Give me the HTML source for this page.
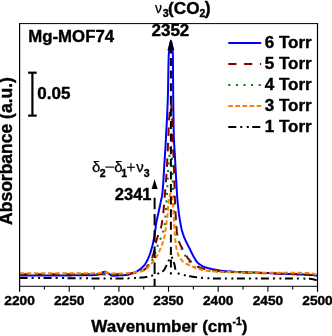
<!DOCTYPE html>
<html><head><meta charset="utf-8">
<style>
html,body{margin:0;padding:0;background:#fff;}
svg{display:block;will-change:transform;}
text{font-family:"Liberation Sans",sans-serif;font-weight:bold;fill:#000;stroke:#000;stroke-width:0.4px;stroke-linejoin:round;}
.r{font-weight:normal;stroke-width:0.25px;}
.s{font-family:"Liberation Serif",serif;font-weight:normal;}
</style></head><body>
<svg width="332" height="336" viewBox="0 0 332 336">
<rect width="332" height="336" fill="#fff"/>
<!-- curves -->
<g fill="none" stroke-linejoin="round">
<path d="M19.6,275.6 L20.0,275.6 L20.4,275.6 L20.8,275.6 L21.2,275.6 L21.6,275.6 L22.0,275.6 L22.4,275.6 L22.8,275.6 L23.2,275.6 L23.6,275.6 L24.0,275.6 L24.4,275.6 L24.8,275.6 L25.2,275.6 L25.6,275.6 L26.0,275.6 L26.4,275.6 L26.8,275.6 L27.2,275.6 L27.6,275.6 L28.0,275.6 L28.4,275.6 L28.8,275.6 L29.2,275.6 L29.6,275.6 L30.0,275.6 L30.4,275.6 L30.8,275.6 L31.2,275.5 L31.6,275.5 L32.0,275.5 L32.4,275.5 L32.8,275.5 L33.2,275.5 L33.6,275.5 L34.0,275.5 L34.4,275.5 L34.8,275.5 L35.2,275.5 L35.6,275.5 L36.0,275.5 L36.4,275.5 L36.8,275.5 L37.2,275.5 L37.6,275.5 L38.0,275.5 L38.4,275.5 L38.8,275.5 L39.2,275.5 L39.6,275.5 L40.0,275.5 L40.4,275.5 L40.8,275.5 L41.2,275.5 L41.6,275.5 L42.0,275.5 L42.4,275.5 L42.8,275.5 L43.2,275.5 L43.6,275.5 L44.0,275.5 L44.4,275.5 L44.8,275.5 L45.2,275.5 L45.6,275.5 L46.0,275.5 L46.4,275.5 L46.8,275.5 L47.2,275.5 L47.6,275.5 L48.0,275.5 L48.4,275.5 L48.8,275.5 L49.2,275.5 L49.6,275.5 L50.0,275.5 L50.4,275.5 L50.8,275.5 L51.2,275.4 L51.6,275.4 L52.0,275.4 L52.4,275.4 L52.8,275.4 L53.2,275.4 L53.6,275.4 L54.0,275.4 L54.4,275.4 L54.8,275.4 L55.2,275.4 L55.6,275.4 L56.0,275.4 L56.4,275.4 L56.8,275.4 L57.2,275.4 L57.6,275.4 L58.0,275.4 L58.4,275.4 L58.8,275.4 L59.2,275.4 L59.6,275.4 L60.0,275.4 L60.0,275.4 L60.4,275.4 L60.8,275.4 L61.2,275.4 L61.6,275.4 L62.0,275.4 L62.4,275.4 L62.8,275.4 L63.2,275.4 L63.6,275.4 L64.0,275.4 L64.4,275.4 L64.8,275.4 L65.2,275.4 L65.6,275.4 L66.0,275.4 L66.4,275.4 L66.8,275.4 L67.2,275.4 L67.6,275.4 L68.0,275.4 L68.4,275.4 L68.8,275.4 L69.2,275.4 L69.6,275.4 L70.0,275.4 L70.4,275.4 L70.8,275.4 L71.2,275.4 L71.6,275.4 L72.0,275.3 L72.4,275.3 L72.8,275.3 L73.2,275.3 L73.6,275.3 L74.0,275.3 L74.4,275.3 L74.8,275.3 L75.2,275.3 L75.6,275.3 L76.0,275.3 L76.4,275.3 L76.8,275.3 L77.2,275.3 L77.6,275.3 L78.0,275.3 L78.4,275.3 L78.8,275.3 L79.2,275.3 L79.6,275.3 L80.0,275.3 L80.4,275.3 L80.8,275.3 L81.2,275.3 L81.6,275.3 L82.0,275.3 L82.4,275.3 L82.8,275.3 L83.2,275.3 L83.6,275.3 L84.0,275.3 L84.4,275.3 L84.8,275.3 L85.2,275.3 L85.6,275.3 L86.0,275.3 L86.4,275.3 L86.8,275.3 L87.2,275.2 L87.6,275.2 L88.0,275.2 L88.4,275.2 L88.8,275.2 L89.2,275.2 L89.6,275.2 L90.0,275.2 L90.4,275.2 L90.8,275.2 L91.0,275.2 L91.2,275.2 L91.6,275.2 L92.0,275.2 L92.4,275.2 L92.8,275.1 L93.2,275.1 L93.6,275.1 L94.0,275.1 L94.4,275.0 L94.8,275.0 L95.2,275.0 L95.6,274.9 L96.0,274.9 L96.4,274.8 L96.8,274.8 L97.2,274.7 L97.6,274.7 L98.0,274.6 L98.0,274.6 L98.4,274.5 L98.8,274.4 L99.2,274.2 L99.6,274.0 L100.0,273.8 L100.4,273.5 L100.8,273.3 L101.2,273.1 L101.5,273.0 L101.6,273.0 L102.0,272.8 L102.4,272.6 L102.8,272.4 L103.2,272.2 L103.6,272.0 L104.0,271.9 L104.4,271.8 L104.8,271.8 L104.8,271.8 L105.2,271.8 L105.6,271.9 L106.0,272.1 L106.4,272.3 L106.8,272.5 L107.2,272.8 L107.6,273.0 L108.0,273.2 L108.0,273.2 L108.4,273.4 L108.8,273.7 L109.2,274.0 L109.6,274.3 L110.0,274.6 L110.4,274.9 L110.8,275.2 L111.2,275.4 L111.6,275.6 L112.0,275.7 L112.4,275.8 L112.5,275.8 L112.8,275.8 L113.2,275.8 L113.6,275.8 L114.0,275.8 L114.4,275.7 L114.8,275.7 L115.2,275.7 L115.6,275.7 L116.0,275.6 L116.4,275.6 L116.8,275.6 L117.2,275.5 L117.6,275.5 L118.0,275.4 L118.4,275.4 L118.8,275.4 L119.2,275.3 L119.6,275.3 L120.0,275.3 L120.0,275.3 L120.4,275.3 L120.8,275.3 L121.2,275.2 L121.6,275.2 L122.0,275.2 L122.4,275.2 L122.8,275.2 L123.2,275.2 L123.6,275.2 L124.0,275.2 L124.4,275.1 L124.8,275.1 L125.2,275.1 L125.6,275.1 L126.0,275.1 L126.4,275.0 L126.8,275.0 L127.0,275.0 L127.2,275.0 L127.6,274.9 L128.0,274.8 L128.4,274.6 L128.8,274.5 L129.2,274.3 L129.6,274.1 L130.0,273.9 L130.4,273.7 L130.8,273.6 L130.8,273.6 L131.2,273.5 L131.6,273.4 L132.0,273.3 L132.4,273.2 L132.8,273.1 L133.2,273.0 L133.6,272.9 L134.0,272.8 L134.4,272.6 L134.8,272.5 L135.2,272.4 L135.4,272.3 L135.6,272.2 L136.0,272.0 L136.4,271.8 L136.8,271.5 L137.2,271.3 L137.6,271.0 L138.0,270.7 L138.0,270.7 L138.4,270.4 L138.8,270.1 L139.2,269.9 L139.6,269.6 L140.0,269.3 L140.4,269.0 L140.8,268.7 L141.2,268.4 L141.6,268.0 L142.0,267.7 L142.4,267.3 L142.8,266.9 L143.2,266.5 L143.5,266.2 L143.6,266.1 L144.0,265.6 L144.4,265.1 L144.8,264.6 L145.2,264.0 L145.6,263.3 L146.0,262.7 L146.4,262.0 L146.8,261.3 L147.1,260.7 L147.2,260.5 L147.6,259.7 L148.0,258.9 L148.4,257.9 L148.8,257.0 L149.2,256.0 L149.6,254.9 L150.0,253.8 L150.4,252.6 L150.7,251.7 L150.8,251.4 L151.2,250.1 L151.6,248.7 L152.0,247.2 L152.4,245.7 L152.8,244.0 L153.2,242.2 L153.5,240.8 L153.6,240.3 L154.0,238.2 L154.4,235.8 L154.8,233.3 L155.2,230.7 L155.3,230.0 L155.6,227.8 L156.0,224.7 L156.3,222.7 L156.4,222.1 L156.8,220.0 L157.2,218.2 L157.6,216.4 L158.0,214.8 L158.4,213.0 L158.6,212.1 L158.8,211.2 L159.2,209.3 L159.6,207.4 L160.0,205.5 L160.4,203.6 L160.8,201.6 L160.8,201.6 L161.2,199.8 L161.6,198.0 L162.0,195.9 L162.3,194.0 L162.4,193.2 L162.8,188.9 L163.1,185.0 L163.2,183.6 L163.6,177.1 L164.0,170.0 L164.3,165.0 L164.4,163.5 L164.8,157.6 L165.2,151.6 L165.3,150.0 L165.6,144.7 L166.0,137.0 L166.1,135.0 L166.4,129.3 L166.8,122.0 L167.2,114.1 L167.6,104.7 L167.9,96.0 L168.0,92.0 L168.4,68.4 L168.7,56.0 L168.8,54.4 L169.2,49.9 L169.6,47.0 L169.6,47.0 L170.0,44.4 L170.4,42.2 L170.8,41.1 L170.9,41.0 L171.2,41.4 L171.6,43.1 L172.0,45.6 L172.2,47.0 L172.4,48.4 L172.8,53.7 L172.9,56.0 L173.2,96.0 L173.2,96.0 L173.6,126.2 L173.8,135.0 L174.0,140.5 L174.4,148.1 L174.8,154.2 L175.0,157.6 L175.2,161.4 L175.6,169.0 L176.0,176.6 L176.3,182.0 L176.4,183.8 L176.8,190.9 L177.2,197.0 L177.2,197.0 L177.6,201.7 L178.0,205.8 L178.2,207.6 L178.4,209.3 L178.8,212.6 L179.2,215.6 L179.6,218.3 L179.8,219.6 L180.0,220.8 L180.4,223.2 L180.8,225.4 L181.2,227.4 L181.6,229.2 L181.8,230.0 L182.0,230.7 L182.4,232.1 L182.8,233.4 L183.2,234.6 L183.6,235.7 L184.0,236.8 L184.4,237.8 L184.8,238.8 L184.9,239.0 L185.2,239.7 L185.6,240.6 L186.0,241.5 L186.4,242.3 L186.8,243.1 L187.2,243.9 L187.6,244.6 L188.0,245.4 L188.4,246.2 L188.8,246.9 L189.2,247.7 L189.4,248.1 L189.6,248.5 L190.0,249.3 L190.4,250.2 L190.8,251.0 L191.2,251.9 L191.6,252.7 L192.0,253.5 L192.4,254.3 L192.8,255.1 L193.2,255.9 L193.6,256.6 L193.9,257.1 L194.0,257.3 L194.4,257.9 L194.8,258.6 L195.2,259.2 L195.6,259.9 L196.0,260.5 L196.4,261.1 L196.8,261.6 L197.2,262.1 L197.6,262.6 L198.0,263.0 L198.4,263.4 L198.5,263.5 L198.8,263.7 L199.2,264.1 L199.6,264.4 L200.0,264.6 L200.4,264.9 L200.8,265.2 L201.2,265.4 L201.6,265.6 L202.0,265.9 L202.4,266.1 L202.8,266.3 L203.2,266.5 L203.6,266.6 L204.0,266.8 L204.4,267.0 L204.8,267.1 L204.8,267.1 L205.2,267.2 L205.6,267.4 L206.0,267.5 L206.4,267.6 L206.8,267.8 L207.2,267.9 L207.6,268.0 L208.0,268.1 L208.4,268.2 L208.8,268.3 L209.2,268.4 L209.6,268.5 L210.0,268.6 L210.4,268.7 L210.8,268.8 L211.2,268.9 L211.6,269.0 L212.0,269.0 L212.4,269.1 L212.8,269.2 L213.2,269.3 L213.6,269.4 L213.8,269.4 L214.0,269.4 L214.4,269.5 L214.8,269.6 L215.2,269.7 L215.6,269.8 L216.0,269.8 L216.4,269.9 L216.8,270.0 L217.2,270.1 L217.6,270.1 L218.0,270.2 L218.4,270.3 L218.8,270.4 L219.2,270.4 L219.6,270.5 L220.0,270.6 L220.4,270.6 L220.8,270.7 L221.2,270.8 L221.6,270.8 L222.0,270.9 L222.4,270.9 L222.8,271.0 L223.2,271.0 L223.6,271.1 L224.0,271.1 L224.4,271.1 L224.8,271.2 L225.0,271.2 L225.2,271.2 L225.6,271.2 L226.0,271.3 L226.4,271.3 L226.8,271.3 L227.2,271.4 L227.6,271.4 L228.0,271.4 L228.4,271.4 L228.8,271.5 L229.2,271.5 L229.6,271.5 L230.0,271.5 L230.4,271.6 L230.8,271.6 L231.2,271.6 L231.6,271.6 L232.0,271.7 L232.4,271.7 L232.8,271.7 L233.2,271.7 L233.6,271.8 L234.0,271.8 L234.4,271.8 L234.8,271.8 L235.2,271.8 L235.6,271.9 L236.0,271.9 L236.4,271.9 L236.8,271.9 L237.2,271.9 L237.6,272.0 L238.0,272.0 L238.4,272.0 L238.8,272.0 L239.2,272.0 L239.6,272.0 L240.0,272.1 L240.4,272.1 L240.8,272.1 L241.2,272.1 L241.6,272.1 L242.0,272.1 L242.4,272.2 L242.8,272.2 L243.2,272.2 L243.6,272.2 L244.0,272.2 L244.4,272.2 L244.8,272.2 L245.2,272.3 L245.6,272.3 L246.0,272.3 L246.4,272.3 L246.8,272.3 L247.2,272.3 L247.6,272.3 L248.0,272.4 L248.4,272.4 L248.8,272.4 L249.2,272.4 L249.6,272.4 L250.0,272.4 L250.4,272.4 L250.8,272.5 L251.2,272.5 L251.6,272.5 L252.0,272.5 L252.4,272.5 L252.8,272.5 L253.2,272.5 L253.6,272.5 L254.0,272.6 L254.4,272.6 L254.8,272.6 L255.2,272.6 L255.6,272.6 L256.0,272.6 L256.4,272.6 L256.8,272.6 L257.2,272.7 L257.6,272.7 L258.0,272.7 L258.4,272.7 L258.8,272.7 L259.2,272.7 L259.6,272.7 L260.0,272.8 L260.4,272.8 L260.8,272.8 L261.2,272.8 L261.6,272.8 L262.0,272.8 L262.4,272.9 L262.8,272.9 L263.2,272.9 L263.6,272.9 L264.0,272.9 L264.4,272.9 L264.8,272.9 L265.2,273.0 L265.6,273.0 L266.0,273.0 L266.0,273.0 L266.4,273.0 L266.8,273.0 L267.2,273.1 L267.6,273.1 L268.0,273.1 L268.4,273.1 L268.8,273.1 L269.2,273.1 L269.6,273.2 L270.0,273.2 L270.4,273.2 L270.8,273.2 L271.2,273.2 L271.6,273.2 L272.0,273.3 L272.4,273.3 L272.8,273.3 L273.2,273.3 L273.6,273.3 L274.0,273.4 L274.4,273.4 L274.8,273.4 L275.2,273.4 L275.6,273.4 L276.0,273.4 L276.4,273.5 L276.8,273.5 L277.2,273.5 L277.6,273.5 L278.0,273.5 L278.4,273.6 L278.8,273.6 L279.2,273.6 L279.6,273.6 L280.0,273.6 L280.4,273.6 L280.8,273.7 L281.2,273.7 L281.6,273.7 L282.0,273.7 L282.4,273.7 L282.8,273.7 L283.2,273.8 L283.6,273.8 L284.0,273.8 L284.4,273.8 L284.8,273.8 L285.2,273.9 L285.6,273.9 L286.0,273.9 L286.4,273.9 L286.8,273.9 L287.2,273.9 L287.6,274.0 L288.0,274.0 L288.4,274.0 L288.8,274.0 L289.2,274.0 L289.6,274.0 L290.0,274.1 L290.4,274.1 L290.8,274.1 L291.2,274.1 L291.6,274.1 L292.0,274.2 L292.4,274.2 L292.8,274.2 L293.2,274.2 L293.6,274.2 L294.0,274.2 L294.4,274.3 L294.8,274.3 L295.2,274.3 L295.6,274.3 L296.0,274.3 L296.4,274.3 L296.8,274.4 L297.2,274.4 L297.6,274.4 L298.0,274.4 L298.4,274.4 L298.8,274.4 L299.2,274.5 L299.6,274.5 L300.0,274.5 L300.0,274.5 L300.4,274.5 L300.8,274.5 L301.2,274.5 L301.6,274.6 L302.0,274.6 L302.4,274.6 L302.8,274.6 L303.2,274.6 L303.6,274.6 L304.0,274.6 L304.4,274.7 L304.8,274.7 L305.2,274.7 L305.6,274.7 L306.0,274.7 L306.4,274.7 L306.8,274.7 L307.2,274.8 L307.6,274.8 L308.0,274.8 L308.4,274.8 L308.8,274.8 L309.2,274.8 L309.6,274.9 L310.0,274.9 L310.4,274.9 L310.8,274.9 L311.2,274.9 L311.6,275.0 L312.0,275.0 L312.0,275.0 L312.4,275.0 L312.8,275.1 L313.2,275.1 L313.6,275.2 L314.0,275.2 L314.4,275.3 L314.8,275.4 L315.2,275.4 L315.6,275.5 L316.0,275.6 L316.4,275.6 L316.8,275.7 L317.2,275.8 L317.2,275.8" stroke="#0000ff" stroke-width="2"/>
<path d="M19.6,274.3 L20.0,274.3 L20.4,274.3 L20.8,274.3 L21.2,274.3 L21.6,274.3 L22.0,274.3 L22.4,274.3 L22.8,274.3 L23.2,274.3 L23.6,274.3 L24.0,274.3 L24.4,274.3 L24.8,274.3 L25.2,274.3 L25.6,274.3 L26.0,274.3 L26.4,274.3 L26.8,274.3 L27.2,274.3 L27.6,274.3 L28.0,274.3 L28.4,274.3 L28.8,274.3 L29.2,274.3 L29.6,274.3 L30.0,274.3 L30.4,274.3 L30.8,274.3 L31.2,274.3 L31.6,274.3 L32.0,274.3 L32.4,274.3 L32.8,274.3 L33.2,274.3 L33.6,274.3 L34.0,274.3 L34.4,274.3 L34.8,274.3 L35.2,274.3 L35.6,274.3 L36.0,274.3 L36.4,274.3 L36.8,274.3 L37.2,274.3 L37.6,274.3 L38.0,274.3 L38.4,274.3 L38.8,274.3 L39.2,274.3 L39.6,274.3 L40.0,274.3 L40.4,274.3 L40.8,274.3 L41.2,274.3 L41.6,274.3 L42.0,274.3 L42.4,274.3 L42.8,274.3 L43.2,274.3 L43.6,274.3 L44.0,274.3 L44.4,274.3 L44.8,274.3 L45.2,274.3 L45.6,274.3 L46.0,274.3 L46.4,274.3 L46.8,274.3 L47.2,274.3 L47.6,274.3 L48.0,274.3 L48.4,274.3 L48.8,274.3 L49.2,274.3 L49.6,274.3 L50.0,274.3 L50.4,274.3 L50.8,274.3 L51.2,274.3 L51.6,274.3 L52.0,274.3 L52.4,274.3 L52.8,274.3 L53.2,274.3 L53.6,274.3 L54.0,274.3 L54.4,274.3 L54.8,274.3 L55.2,274.3 L55.6,274.3 L56.0,274.3 L56.4,274.3 L56.8,274.3 L57.2,274.3 L57.6,274.3 L58.0,274.3 L58.4,274.3 L58.8,274.3 L59.2,274.3 L59.6,274.3 L60.0,274.3 L60.0,274.3 L60.4,274.3 L60.8,274.3 L61.2,274.3 L61.6,274.3 L62.0,274.3 L62.4,274.3 L62.8,274.3 L63.2,274.3 L63.6,274.3 L64.0,274.3 L64.4,274.3 L64.8,274.3 L65.2,274.3 L65.6,274.3 L66.0,274.3 L66.4,274.3 L66.8,274.3 L67.2,274.3 L67.6,274.3 L68.0,274.3 L68.4,274.3 L68.8,274.3 L69.2,274.3 L69.6,274.3 L70.0,274.3 L70.4,274.3 L70.8,274.3 L71.2,274.3 L71.6,274.3 L72.0,274.3 L72.4,274.3 L72.8,274.3 L73.2,274.3 L73.6,274.3 L74.0,274.3 L74.4,274.3 L74.8,274.3 L75.2,274.3 L75.6,274.3 L76.0,274.3 L76.4,274.3 L76.8,274.3 L77.2,274.3 L77.6,274.3 L78.0,274.3 L78.4,274.3 L78.8,274.3 L79.2,274.3 L79.6,274.3 L80.0,274.2 L80.4,274.2 L80.8,274.2 L81.2,274.2 L81.6,274.2 L82.0,274.2 L82.4,274.2 L82.8,274.2 L83.2,274.2 L83.6,274.2 L84.0,274.2 L84.4,274.2 L84.8,274.2 L85.2,274.2 L85.6,274.2 L86.0,274.2 L86.4,274.2 L86.8,274.2 L87.2,274.2 L87.6,274.2 L88.0,274.2 L88.4,274.2 L88.8,274.2 L89.2,274.2 L89.6,274.2 L90.0,274.2 L90.4,274.2 L90.8,274.2 L91.2,274.2 L91.6,274.2 L92.0,274.2 L92.4,274.2 L92.8,274.2 L93.2,274.2 L93.6,274.2 L94.0,274.2 L94.4,274.2 L94.8,274.2 L95.2,274.2 L95.6,274.2 L96.0,274.2 L96.4,274.2 L96.8,274.2 L97.2,274.2 L97.6,274.2 L98.0,274.2 L98.4,274.2 L98.8,274.2 L99.2,274.2 L99.6,274.2 L100.0,274.2 L100.0,274.2 L100.4,274.2 L100.8,274.2 L101.2,274.2 L101.6,274.2 L102.0,274.2 L102.4,274.2 L102.8,274.2 L103.2,274.2 L103.6,274.2 L104.0,274.2 L104.4,274.2 L104.8,274.2 L105.2,274.2 L105.6,274.2 L106.0,274.2 L106.4,274.2 L106.8,274.2 L107.2,274.2 L107.6,274.2 L108.0,274.2 L108.4,274.2 L108.8,274.2 L109.2,274.2 L109.6,274.2 L110.0,274.2 L110.4,274.2 L110.8,274.2 L111.2,274.2 L111.6,274.2 L112.0,274.2 L112.4,274.2 L112.8,274.2 L113.2,274.2 L113.6,274.2 L114.0,274.2 L114.4,274.2 L114.8,274.2 L115.2,274.2 L115.6,274.2 L116.0,274.2 L116.4,274.2 L116.8,274.2 L117.2,274.2 L117.6,274.2 L118.0,274.2 L118.4,274.2 L118.8,274.2 L119.2,274.2 L119.6,274.2 L120.0,274.2 L120.0,274.2 L120.4,274.2 L120.8,274.2 L121.2,274.2 L121.6,274.2 L122.0,274.2 L122.4,274.1 L122.8,274.1 L123.2,274.1 L123.6,274.1 L124.0,274.1 L124.4,274.0 L124.8,274.0 L125.2,274.0 L125.6,273.9 L126.0,273.9 L126.4,273.9 L126.8,273.8 L127.2,273.8 L127.6,273.7 L128.0,273.7 L128.4,273.7 L128.8,273.6 L129.2,273.6 L129.6,273.5 L130.0,273.5 L130.0,273.5 L130.4,273.5 L130.8,273.4 L131.2,273.4 L131.6,273.3 L132.0,273.3 L132.4,273.2 L132.8,273.1 L133.2,273.1 L133.6,273.0 L134.0,272.9 L134.4,272.9 L134.8,272.8 L135.2,272.7 L135.6,272.6 L136.0,272.5 L136.4,272.4 L136.8,272.4 L137.2,272.3 L137.6,272.2 L138.0,272.1 L138.4,272.0 L138.8,271.8 L139.2,271.7 L139.6,271.6 L140.0,271.5 L140.0,271.5 L140.4,271.4 L140.8,271.2 L141.2,271.1 L141.6,270.9 L142.0,270.8 L142.4,270.6 L142.8,270.4 L143.2,270.2 L143.6,270.0 L144.0,269.8 L144.4,269.5 L144.8,269.2 L145.2,269.0 L145.3,268.9 L145.6,268.7 L146.0,268.3 L146.4,267.9 L146.8,267.4 L147.2,266.9 L147.6,266.4 L148.0,265.8 L148.4,265.2 L148.8,264.6 L148.9,264.4 L149.2,263.9 L149.6,263.2 L150.0,262.4 L150.4,261.6 L150.8,260.8 L151.2,259.8 L151.6,258.9 L152.0,257.9 L152.4,256.8 L152.8,255.6 L153.2,254.4 L153.5,253.5 L153.6,253.2 L154.0,251.6 L154.4,249.9 L154.8,247.9 L155.2,245.9 L155.6,244.0 L156.0,242.3 L156.2,241.5 L156.4,240.8 L156.8,239.4 L157.2,238.0 L157.6,236.7 L158.0,235.5 L158.4,234.3 L158.8,233.1 L159.2,232.0 L159.2,232.0 L159.6,231.0 L160.0,230.1 L160.4,229.2 L160.8,228.0 L160.8,228.0 L161.2,226.5 L161.6,224.7 L162.0,222.5 L162.4,220.1 L162.8,217.3 L163.1,215.1 L163.2,214.3 L163.6,210.1 L164.0,205.2 L164.3,201.6 L164.4,200.4 L164.8,195.7 L165.2,190.8 L165.3,189.5 L165.6,185.6 L165.8,183.0 L166.0,180.4 L166.4,175.4 L166.8,169.6 L166.8,169.6 L167.2,161.8 L167.6,153.0 L167.6,153.0 L168.0,144.6 L168.3,138.0 L168.4,135.5 L168.8,125.0 L168.9,123.0 L169.2,118.5 L169.6,114.0 L169.6,114.0 L170.0,109.8 L170.4,106.1 L170.8,104.1 L170.9,104.0 L171.2,105.0 L171.6,108.8 L172.0,114.0 L172.0,114.0 L172.4,122.1 L172.5,125.0 L172.8,140.0 L172.9,144.0 L173.2,150.4 L173.6,157.6 L173.6,157.6 L174.0,169.6 L174.4,183.0 L174.4,183.0 L174.8,196.2 L175.1,204.6 L175.2,206.7 L175.6,214.0 L176.0,220.0 L176.3,224.2 L176.4,225.6 L176.8,231.4 L177.2,235.4 L177.2,235.4 L177.6,237.4 L178.0,238.9 L178.4,240.1 L178.8,241.1 L179.2,242.0 L179.5,242.7 L179.6,242.9 L180.0,243.9 L180.4,244.8 L180.8,245.7 L181.2,246.5 L181.6,247.3 L182.0,248.1 L182.4,248.8 L182.8,249.6 L183.2,250.3 L183.6,251.0 L184.0,251.7 L184.0,251.7 L184.4,252.4 L184.8,253.1 L185.2,253.8 L185.6,254.5 L186.0,255.2 L186.4,255.9 L186.8,256.5 L187.2,257.1 L187.6,257.7 L188.0,258.3 L188.4,258.8 L188.5,258.9 L188.8,259.3 L189.2,259.7 L189.6,260.2 L190.0,260.6 L190.4,261.1 L190.8,261.5 L191.2,261.9 L191.6,262.3 L192.0,262.7 L192.4,263.1 L192.8,263.5 L193.2,263.9 L193.6,264.2 L194.0,264.5 L194.4,264.8 L194.8,265.1 L195.2,265.4 L195.6,265.7 L196.0,265.9 L196.4,266.1 L196.6,266.2 L196.8,266.3 L197.2,266.5 L197.6,266.7 L198.0,266.8 L198.4,267.0 L198.8,267.2 L199.2,267.3 L199.6,267.5 L200.0,267.6 L200.4,267.8 L200.8,267.9 L201.2,268.1 L201.6,268.2 L202.0,268.3 L202.4,268.4 L202.8,268.5 L203.2,268.6 L203.6,268.8 L204.0,268.9 L204.4,268.9 L204.8,269.0 L205.2,269.1 L205.6,269.2 L206.0,269.3 L206.4,269.4 L206.6,269.4 L206.8,269.4 L207.2,269.5 L207.6,269.6 L208.0,269.6 L208.4,269.7 L208.8,269.8 L209.2,269.8 L209.6,269.9 L210.0,270.0 L210.4,270.0 L210.8,270.1 L211.2,270.1 L211.6,270.2 L212.0,270.2 L212.4,270.3 L212.8,270.3 L213.2,270.4 L213.6,270.4 L214.0,270.5 L214.4,270.5 L214.8,270.6 L215.2,270.6 L215.6,270.7 L216.0,270.7 L216.4,270.8 L216.8,270.8 L217.2,270.9 L217.6,270.9 L218.0,270.9 L218.4,271.0 L218.8,271.0 L219.2,271.0 L219.6,271.1 L220.0,271.1 L220.4,271.2 L220.8,271.2 L221.2,271.2 L221.6,271.2 L222.0,271.3 L222.4,271.3 L222.8,271.3 L223.2,271.4 L223.6,271.4 L224.0,271.4 L224.4,271.5 L224.8,271.5 L225.0,271.5 L225.2,271.5 L225.6,271.5 L226.0,271.6 L226.4,271.6 L226.8,271.6 L227.2,271.6 L227.6,271.7 L228.0,271.7 L228.4,271.7 L228.8,271.7 L229.2,271.8 L229.6,271.8 L230.0,271.8 L230.4,271.8 L230.8,271.9 L231.2,271.9 L231.6,271.9 L232.0,271.9 L232.4,271.9 L232.8,272.0 L233.2,272.0 L233.6,272.0 L234.0,272.0 L234.4,272.1 L234.8,272.1 L235.2,272.1 L235.6,272.1 L236.0,272.1 L236.4,272.2 L236.8,272.2 L237.2,272.2 L237.6,272.2 L238.0,272.2 L238.4,272.3 L238.8,272.3 L239.2,272.3 L239.6,272.3 L240.0,272.3 L240.4,272.3 L240.8,272.4 L241.2,272.4 L241.6,272.4 L242.0,272.4 L242.4,272.4 L242.8,272.4 L243.2,272.5 L243.6,272.5 L244.0,272.5 L244.4,272.5 L244.8,272.5 L245.2,272.5 L245.6,272.6 L246.0,272.6 L246.4,272.6 L246.8,272.6 L247.2,272.6 L247.6,272.6 L248.0,272.7 L248.4,272.7 L248.8,272.7 L249.2,272.7 L249.6,272.7 L250.0,272.7 L250.4,272.7 L250.8,272.8 L251.2,272.8 L251.6,272.8 L252.0,272.8 L252.4,272.8 L252.8,272.8 L253.2,272.8 L253.6,272.9 L254.0,272.9 L254.4,272.9 L254.8,272.9 L255.2,272.9 L255.6,272.9 L256.0,272.9 L256.4,273.0 L256.8,273.0 L257.2,273.0 L257.6,273.0 L258.0,273.0 L258.4,273.0 L258.8,273.0 L259.2,273.1 L259.6,273.1 L260.0,273.1 L260.4,273.1 L260.8,273.1 L261.2,273.1 L261.6,273.1 L262.0,273.2 L262.4,273.2 L262.8,273.2 L263.2,273.2 L263.6,273.2 L264.0,273.2 L264.4,273.2 L264.8,273.3 L265.2,273.3 L265.6,273.3 L266.0,273.3 L266.0,273.3 L266.4,273.3 L266.8,273.3 L267.2,273.3 L267.6,273.4 L268.0,273.4 L268.4,273.4 L268.8,273.4 L269.2,273.4 L269.6,273.4 L270.0,273.4 L270.4,273.4 L270.8,273.5 L271.2,273.5 L271.6,273.5 L272.0,273.5 L272.4,273.5 L272.8,273.5 L273.2,273.5 L273.6,273.5 L274.0,273.5 L274.4,273.6 L274.8,273.6 L275.2,273.6 L275.6,273.6 L276.0,273.6 L276.4,273.6 L276.8,273.6 L277.2,273.6 L277.6,273.6 L278.0,273.7 L278.4,273.7 L278.8,273.7 L279.2,273.7 L279.6,273.7 L280.0,273.7 L280.4,273.7 L280.8,273.7 L281.2,273.7 L281.6,273.7 L282.0,273.8 L282.4,273.8 L282.8,273.8 L283.2,273.8 L283.6,273.8 L284.0,273.8 L284.4,273.8 L284.8,273.8 L285.2,273.8 L285.6,273.8 L286.0,273.9 L286.4,273.9 L286.8,273.9 L287.2,273.9 L287.6,273.9 L288.0,273.9 L288.4,273.9 L288.8,273.9 L289.2,273.9 L289.6,273.9 L290.0,274.0 L290.4,274.0 L290.8,274.0 L291.2,274.0 L291.6,274.0 L292.0,274.0 L292.4,274.0 L292.8,274.0 L293.2,274.0 L293.6,274.1 L294.0,274.1 L294.4,274.1 L294.8,274.1 L295.2,274.1 L295.6,274.1 L296.0,274.1 L296.4,274.2 L296.8,274.2 L297.2,274.2 L297.6,274.2 L298.0,274.2 L298.4,274.2 L298.8,274.2 L299.2,274.3 L299.6,274.3 L300.0,274.3 L300.4,274.3 L300.8,274.3 L301.2,274.3 L301.6,274.3 L302.0,274.4 L302.4,274.4 L302.8,274.4 L303.2,274.4 L303.6,274.4 L304.0,274.5 L304.4,274.5 L304.8,274.5 L305.0,274.5 L305.2,274.5 L305.6,274.5 L306.0,274.6 L306.4,274.6 L306.8,274.6 L307.2,274.6 L307.6,274.7 L308.0,274.7 L308.4,274.7 L308.8,274.7 L309.2,274.8 L309.6,274.8 L310.0,274.8 L310.4,274.9 L310.8,274.9 L311.2,274.9 L311.6,275.0 L312.0,275.0 L312.4,275.0 L312.8,275.1 L313.2,275.1 L313.6,275.2 L314.0,275.2 L314.4,275.2 L314.8,275.3 L315.2,275.3 L315.6,275.3 L316.0,275.4 L316.4,275.4 L316.8,275.5 L317.2,275.5 L317.2,275.5" stroke="#800000" stroke-width="2" stroke-dasharray="8.5,7"/>
<path d="M19.6,274.3 L20.0,274.3 L20.4,274.3 L20.8,274.3 L21.2,274.3 L21.6,274.3 L22.0,274.3 L22.4,274.3 L22.8,274.3 L23.2,274.3 L23.6,274.3 L24.0,274.3 L24.4,274.3 L24.8,274.3 L25.2,274.3 L25.6,274.3 L26.0,274.3 L26.4,274.3 L26.8,274.3 L27.2,274.3 L27.6,274.3 L28.0,274.3 L28.4,274.3 L28.8,274.3 L29.2,274.3 L29.6,274.3 L30.0,274.3 L30.4,274.3 L30.8,274.3 L31.2,274.3 L31.6,274.3 L32.0,274.3 L32.4,274.3 L32.8,274.3 L33.2,274.3 L33.6,274.3 L34.0,274.3 L34.4,274.3 L34.8,274.3 L35.2,274.3 L35.6,274.3 L36.0,274.3 L36.4,274.3 L36.8,274.3 L37.2,274.3 L37.6,274.3 L38.0,274.3 L38.4,274.3 L38.8,274.3 L39.2,274.3 L39.6,274.3 L40.0,274.3 L40.4,274.3 L40.8,274.3 L41.2,274.3 L41.6,274.3 L42.0,274.3 L42.4,274.3 L42.8,274.3 L43.2,274.3 L43.6,274.3 L44.0,274.3 L44.4,274.3 L44.8,274.3 L45.2,274.3 L45.6,274.3 L46.0,274.3 L46.4,274.3 L46.8,274.3 L47.2,274.3 L47.6,274.3 L48.0,274.3 L48.4,274.3 L48.8,274.3 L49.2,274.3 L49.6,274.3 L50.0,274.3 L50.4,274.3 L50.8,274.3 L51.2,274.3 L51.6,274.3 L52.0,274.3 L52.4,274.3 L52.8,274.3 L53.2,274.3 L53.6,274.3 L54.0,274.3 L54.4,274.3 L54.8,274.3 L55.2,274.3 L55.6,274.3 L56.0,274.3 L56.4,274.3 L56.8,274.3 L57.2,274.3 L57.6,274.3 L58.0,274.3 L58.4,274.3 L58.8,274.3 L59.2,274.3 L59.6,274.3 L60.0,274.3 L60.0,274.3 L60.4,274.3 L60.8,274.3 L61.2,274.3 L61.6,274.3 L62.0,274.3 L62.4,274.3 L62.8,274.3 L63.2,274.3 L63.6,274.3 L64.0,274.3 L64.4,274.3 L64.8,274.3 L65.2,274.3 L65.6,274.3 L66.0,274.3 L66.4,274.3 L66.8,274.3 L67.2,274.3 L67.6,274.3 L68.0,274.3 L68.4,274.3 L68.8,274.3 L69.2,274.3 L69.6,274.3 L70.0,274.3 L70.4,274.3 L70.8,274.3 L71.2,274.3 L71.6,274.3 L72.0,274.3 L72.4,274.3 L72.8,274.3 L73.2,274.3 L73.6,274.3 L74.0,274.3 L74.4,274.3 L74.8,274.3 L75.2,274.3 L75.6,274.3 L76.0,274.3 L76.4,274.3 L76.8,274.3 L77.2,274.3 L77.6,274.3 L78.0,274.3 L78.4,274.3 L78.8,274.3 L79.2,274.3 L79.6,274.3 L80.0,274.3 L80.4,274.3 L80.8,274.3 L81.2,274.3 L81.6,274.3 L82.0,274.3 L82.4,274.3 L82.8,274.3 L83.2,274.3 L83.6,274.3 L84.0,274.3 L84.4,274.3 L84.8,274.3 L85.2,274.3 L85.6,274.3 L86.0,274.3 L86.4,274.3 L86.8,274.3 L87.2,274.3 L87.6,274.3 L88.0,274.3 L88.4,274.3 L88.8,274.3 L89.2,274.3 L89.6,274.3 L90.0,274.3 L90.4,274.3 L90.8,274.3 L91.2,274.3 L91.6,274.3 L92.0,274.3 L92.4,274.3 L92.8,274.3 L93.2,274.3 L93.6,274.3 L94.0,274.3 L94.4,274.3 L94.8,274.3 L95.2,274.3 L95.6,274.3 L96.0,274.3 L96.4,274.3 L96.8,274.3 L97.2,274.3 L97.6,274.3 L98.0,274.3 L98.4,274.3 L98.8,274.3 L99.2,274.3 L99.6,274.3 L100.0,274.3 L100.0,274.3 L100.4,274.3 L100.8,274.3 L101.2,274.3 L101.6,274.3 L102.0,274.3 L102.4,274.3 L102.8,274.3 L103.2,274.3 L103.6,274.3 L104.0,274.3 L104.4,274.3 L104.8,274.3 L105.2,274.3 L105.6,274.3 L106.0,274.3 L106.4,274.3 L106.8,274.3 L107.2,274.3 L107.6,274.3 L108.0,274.3 L108.4,274.3 L108.8,274.3 L109.2,274.3 L109.6,274.3 L110.0,274.3 L110.4,274.2 L110.8,274.2 L111.2,274.2 L111.6,274.2 L112.0,274.2 L112.4,274.2 L112.8,274.2 L113.2,274.2 L113.6,274.2 L114.0,274.2 L114.4,274.2 L114.8,274.2 L115.2,274.2 L115.6,274.2 L116.0,274.2 L116.4,274.2 L116.8,274.2 L117.2,274.2 L117.6,274.2 L118.0,274.1 L118.4,274.1 L118.8,274.1 L119.2,274.1 L119.6,274.1 L120.0,274.1 L120.4,274.1 L120.8,274.1 L121.2,274.1 L121.6,274.1 L122.0,274.1 L122.4,274.1 L122.8,274.1 L123.2,274.0 L123.6,274.0 L124.0,274.0 L124.4,274.0 L124.8,274.0 L125.0,274.0 L125.2,274.0 L125.6,274.0 L126.0,274.0 L126.4,274.0 L126.8,273.9 L127.2,273.9 L127.6,273.9 L128.0,273.9 L128.4,273.8 L128.8,273.8 L129.2,273.8 L129.6,273.7 L130.0,273.7 L130.4,273.6 L130.8,273.6 L131.2,273.5 L131.6,273.5 L132.0,273.4 L132.4,273.4 L132.8,273.3 L133.2,273.3 L133.6,273.2 L134.0,273.2 L134.4,273.1 L134.8,273.0 L135.0,273.0 L135.2,273.0 L135.6,272.9 L136.0,272.8 L136.4,272.7 L136.8,272.5 L137.2,272.4 L137.6,272.2 L138.0,272.1 L138.4,271.9 L138.8,271.7 L139.2,271.5 L139.6,271.3 L140.0,271.1 L140.4,270.9 L140.8,270.7 L141.2,270.4 L141.6,270.2 L142.0,270.0 L142.0,270.0 L142.4,269.8 L142.8,269.5 L143.2,269.2 L143.6,269.0 L144.0,268.7 L144.4,268.4 L144.8,268.0 L145.2,267.7 L145.6,267.4 L146.0,267.0 L146.4,266.7 L146.8,266.3 L147.1,266.0 L147.2,265.9 L147.6,265.5 L148.0,265.1 L148.4,264.7 L148.8,264.3 L149.2,263.9 L149.6,263.5 L150.0,263.0 L150.4,262.5 L150.8,262.0 L151.2,261.5 L151.6,260.9 L152.0,260.3 L152.4,259.7 L152.5,259.5 L152.8,259.0 L153.2,258.1 L153.6,257.2 L154.0,256.2 L154.4,255.1 L154.8,254.0 L155.2,252.8 L155.6,251.5 L156.0,250.3 L156.4,249.1 L156.8,247.9 L157.2,246.7 L157.6,245.6 L158.0,244.5 L158.0,244.5 L158.4,243.5 L158.8,242.6 L159.2,241.6 L159.6,240.8 L160.0,239.9 L160.4,239.0 L160.8,238.1 L161.2,237.1 L161.6,236.1 L162.0,235.0 L162.4,233.9 L162.5,233.6 L162.8,232.7 L163.2,231.5 L163.6,230.3 L164.0,228.7 L164.4,226.8 L164.6,225.7 L164.8,224.1 L165.2,219.4 L165.6,213.4 L166.0,207.4 L166.1,206.1 L166.4,202.3 L166.8,197.0 L166.8,197.0 L167.2,190.5 L167.4,186.5 L167.6,181.2 L167.7,178.7 L168.0,172.6 L168.1,171.0 L168.4,166.7 L168.8,162.0 L169.1,159.0 L169.2,158.1 L169.6,154.1 L170.0,150.4 L170.4,147.5 L170.8,146.1 L170.9,146.0 L171.2,147.3 L171.6,151.8 L171.8,154.6 L172.0,158.9 L172.2,164.4 L172.4,170.4 L172.8,183.0 L172.8,183.0 L173.1,191.0 L173.2,193.0 L173.6,200.1 L174.0,205.9 L174.4,210.6 L174.4,210.6 L174.8,214.2 L175.2,217.2 L175.6,220.2 L175.7,221.1 L176.0,224.2 L176.4,228.6 L176.6,230.2 L176.8,231.5 L177.2,233.9 L177.6,236.0 L178.0,237.9 L178.4,239.6 L178.8,241.2 L179.2,242.6 L179.6,243.8 L180.0,245.0 L180.0,245.0 L180.4,246.1 L180.8,247.1 L181.2,248.1 L181.6,249.0 L182.0,249.9 L182.4,250.8 L182.8,251.6 L183.2,252.4 L183.6,253.1 L184.0,253.8 L184.4,254.5 L184.8,255.1 L185.2,255.8 L185.6,256.4 L186.0,257.0 L186.4,257.6 L186.7,258.0 L186.8,258.1 L187.2,258.7 L187.6,259.3 L188.0,259.9 L188.4,260.4 L188.8,261.0 L189.2,261.5 L189.6,262.1 L190.0,262.6 L190.4,263.1 L190.8,263.6 L191.2,264.1 L191.6,264.5 L192.0,264.9 L192.4,265.3 L192.8,265.7 L193.2,266.1 L193.6,266.4 L194.0,266.7 L194.4,266.9 L194.8,267.1 L194.8,267.1 L195.2,267.3 L195.6,267.5 L196.0,267.6 L196.4,267.8 L196.8,267.9 L197.2,268.1 L197.6,268.2 L198.0,268.4 L198.4,268.5 L198.8,268.6 L199.2,268.7 L199.6,268.9 L200.0,269.0 L200.4,269.1 L200.8,269.2 L201.2,269.3 L201.6,269.4 L202.0,269.5 L202.4,269.5 L202.8,269.6 L203.2,269.7 L203.6,269.8 L204.0,269.8 L204.4,269.9 L204.8,270.0 L205.0,270.0 L205.2,270.0 L205.6,270.1 L206.0,270.2 L206.4,270.2 L206.8,270.3 L207.2,270.3 L207.6,270.4 L208.0,270.4 L208.4,270.5 L208.8,270.6 L209.2,270.6 L209.6,270.7 L210.0,270.7 L210.4,270.8 L210.8,270.8 L211.2,270.9 L211.6,270.9 L212.0,271.0 L212.4,271.0 L212.8,271.1 L213.2,271.1 L213.6,271.1 L214.0,271.2 L214.4,271.2 L214.8,271.3 L215.2,271.3 L215.6,271.3 L216.0,271.4 L216.4,271.4 L216.8,271.5 L217.2,271.5 L217.6,271.5 L218.0,271.6 L218.4,271.6 L218.8,271.6 L219.2,271.7 L219.6,271.7 L220.0,271.7 L220.4,271.7 L220.8,271.8 L221.2,271.8 L221.6,271.8 L222.0,271.8 L222.4,271.9 L222.8,271.9 L223.2,271.9 L223.6,271.9 L224.0,272.0 L224.4,272.0 L224.8,272.0 L225.0,272.0 L225.2,272.0 L225.6,272.0 L226.0,272.0 L226.4,272.1 L226.8,272.1 L227.2,272.1 L227.6,272.1 L228.0,272.1 L228.4,272.1 L228.8,272.1 L229.2,272.2 L229.6,272.2 L230.0,272.2 L230.4,272.2 L230.8,272.2 L231.2,272.2 L231.6,272.2 L232.0,272.3 L232.4,272.3 L232.8,272.3 L233.2,272.3 L233.6,272.3 L234.0,272.3 L234.4,272.3 L234.8,272.3 L235.2,272.3 L235.6,272.4 L236.0,272.4 L236.4,272.4 L236.8,272.4 L237.2,272.4 L237.6,272.4 L238.0,272.4 L238.4,272.4 L238.8,272.4 L239.2,272.5 L239.6,272.5 L240.0,272.5 L240.4,272.5 L240.8,272.5 L241.2,272.5 L241.6,272.5 L242.0,272.5 L242.4,272.5 L242.8,272.5 L243.2,272.5 L243.6,272.5 L244.0,272.6 L244.4,272.6 L244.8,272.6 L245.2,272.6 L245.6,272.6 L246.0,272.6 L246.4,272.6 L246.8,272.6 L247.2,272.6 L247.6,272.6 L248.0,272.6 L248.4,272.6 L248.8,272.7 L249.2,272.7 L249.6,272.7 L250.0,272.7 L250.4,272.7 L250.8,272.7 L251.2,272.7 L251.6,272.7 L252.0,272.7 L252.4,272.7 L252.8,272.7 L253.2,272.7 L253.6,272.7 L254.0,272.7 L254.4,272.8 L254.8,272.8 L255.2,272.8 L255.6,272.8 L256.0,272.8 L256.4,272.8 L256.8,272.8 L257.2,272.8 L257.6,272.8 L258.0,272.8 L258.4,272.8 L258.8,272.8 L259.2,272.8 L259.6,272.9 L260.0,272.9 L260.4,272.9 L260.8,272.9 L261.2,272.9 L261.6,272.9 L262.0,272.9 L262.4,272.9 L262.8,272.9 L263.2,272.9 L263.6,272.9 L264.0,273.0 L264.4,273.0 L264.8,273.0 L265.2,273.0 L265.6,273.0 L266.0,273.0 L266.0,273.0 L266.4,273.0 L266.8,273.0 L267.2,273.0 L267.6,273.0 L268.0,273.0 L268.4,273.1 L268.8,273.1 L269.2,273.1 L269.6,273.1 L270.0,273.1 L270.4,273.1 L270.8,273.1 L271.2,273.1 L271.6,273.1 L272.0,273.1 L272.4,273.1 L272.8,273.2 L273.2,273.2 L273.6,273.2 L274.0,273.2 L274.4,273.2 L274.8,273.2 L275.2,273.2 L275.6,273.2 L276.0,273.2 L276.4,273.2 L276.8,273.2 L277.2,273.2 L277.6,273.3 L278.0,273.3 L278.4,273.3 L278.8,273.3 L279.2,273.3 L279.6,273.3 L280.0,273.3 L280.4,273.3 L280.8,273.3 L281.2,273.3 L281.6,273.3 L282.0,273.3 L282.4,273.3 L282.8,273.4 L283.2,273.4 L283.6,273.4 L284.0,273.4 L284.4,273.4 L284.8,273.4 L285.2,273.4 L285.6,273.4 L286.0,273.4 L286.4,273.4 L286.8,273.4 L287.2,273.4 L287.6,273.5 L288.0,273.5 L288.4,273.5 L288.8,273.5 L289.2,273.5 L289.6,273.5 L290.0,273.5 L290.4,273.5 L290.8,273.5 L291.2,273.5 L291.6,273.6 L292.0,273.6 L292.4,273.6 L292.8,273.6 L293.2,273.6 L293.6,273.6 L294.0,273.6 L294.4,273.6 L294.8,273.6 L295.2,273.7 L295.6,273.7 L296.0,273.7 L296.4,273.7 L296.8,273.7 L297.2,273.7 L297.6,273.7 L298.0,273.7 L298.4,273.8 L298.8,273.8 L299.2,273.8 L299.6,273.8 L300.0,273.8 L300.4,273.8 L300.8,273.8 L301.2,273.8 L301.6,273.9 L302.0,273.9 L302.4,273.9 L302.8,273.9 L303.2,273.9 L303.6,273.9 L304.0,274.0 L304.4,274.0 L304.8,274.0 L305.0,274.0 L305.2,274.0 L305.6,274.0 L306.0,274.0 L306.4,274.1 L306.8,274.1 L307.2,274.1 L307.6,274.1 L308.0,274.2 L308.4,274.2 L308.8,274.2 L309.2,274.3 L309.6,274.3 L310.0,274.3 L310.4,274.4 L310.8,274.4 L311.2,274.4 L311.6,274.5 L312.0,274.5 L312.4,274.5 L312.8,274.6 L313.2,274.6 L313.6,274.7 L314.0,274.7 L314.4,274.7 L314.8,274.8 L315.2,274.8 L315.6,274.8 L316.0,274.9 L316.4,274.9 L316.8,275.0 L317.2,275.0 L317.2,275.0" stroke="#008000" stroke-width="2" stroke-dasharray="2,5.6"/>
<path d="M19.6,273.2 L20.0,273.2 L20.4,273.2 L20.8,273.2 L21.2,273.2 L21.6,273.2 L22.0,273.2 L22.4,273.2 L22.8,273.2 L23.2,273.2 L23.6,273.2 L24.0,273.2 L24.4,273.2 L24.8,273.2 L25.2,273.2 L25.6,273.2 L26.0,273.2 L26.4,273.2 L26.8,273.2 L27.2,273.2 L27.6,273.2 L28.0,273.2 L28.4,273.2 L28.8,273.2 L29.2,273.2 L29.6,273.2 L30.0,273.2 L30.4,273.2 L30.8,273.2 L31.2,273.2 L31.6,273.2 L32.0,273.2 L32.4,273.2 L32.8,273.2 L33.2,273.2 L33.6,273.2 L34.0,273.2 L34.4,273.2 L34.8,273.2 L35.2,273.2 L35.6,273.2 L36.0,273.2 L36.4,273.2 L36.8,273.2 L37.2,273.2 L37.6,273.2 L38.0,273.2 L38.4,273.2 L38.8,273.2 L39.2,273.2 L39.6,273.2 L40.0,273.2 L40.4,273.2 L40.8,273.2 L41.2,273.2 L41.6,273.2 L42.0,273.2 L42.4,273.2 L42.8,273.2 L43.2,273.2 L43.6,273.2 L44.0,273.2 L44.4,273.2 L44.8,273.2 L45.2,273.2 L45.6,273.2 L46.0,273.2 L46.4,273.2 L46.8,273.2 L47.2,273.2 L47.6,273.2 L48.0,273.2 L48.4,273.2 L48.8,273.2 L49.2,273.2 L49.6,273.2 L50.0,273.2 L50.4,273.2 L50.8,273.2 L51.2,273.2 L51.6,273.2 L52.0,273.2 L52.4,273.2 L52.8,273.2 L53.2,273.2 L53.6,273.2 L54.0,273.2 L54.4,273.2 L54.8,273.2 L55.2,273.2 L55.6,273.2 L56.0,273.2 L56.4,273.2 L56.8,273.2 L57.2,273.2 L57.6,273.2 L58.0,273.2 L58.4,273.2 L58.8,273.2 L59.2,273.2 L59.6,273.2 L60.0,273.2 L60.0,273.2 L60.4,273.2 L60.8,273.2 L61.2,273.2 L61.6,273.2 L62.0,273.2 L62.4,273.2 L62.8,273.2 L63.2,273.2 L63.6,273.2 L64.0,273.2 L64.4,273.2 L64.8,273.2 L65.2,273.2 L65.6,273.2 L66.0,273.2 L66.4,273.2 L66.8,273.2 L67.2,273.2 L67.6,273.2 L68.0,273.2 L68.4,273.2 L68.8,273.2 L69.2,273.2 L69.6,273.2 L70.0,273.2 L70.4,273.2 L70.8,273.2 L71.2,273.2 L71.6,273.2 L72.0,273.2 L72.4,273.2 L72.8,273.2 L73.2,273.2 L73.6,273.2 L74.0,273.2 L74.4,273.2 L74.8,273.2 L75.2,273.2 L75.6,273.2 L76.0,273.2 L76.4,273.2 L76.8,273.2 L77.2,273.2 L77.6,273.2 L78.0,273.2 L78.4,273.2 L78.8,273.2 L79.2,273.2 L79.6,273.2 L80.0,273.2 L80.4,273.2 L80.8,273.2 L81.2,273.2 L81.6,273.2 L82.0,273.2 L82.4,273.2 L82.8,273.2 L83.2,273.2 L83.6,273.2 L84.0,273.2 L84.4,273.2 L84.8,273.2 L85.2,273.2 L85.6,273.2 L86.0,273.2 L86.4,273.2 L86.8,273.2 L87.2,273.2 L87.6,273.2 L88.0,273.2 L88.4,273.2 L88.8,273.2 L89.2,273.2 L89.6,273.2 L90.0,273.2 L90.4,273.2 L90.8,273.2 L91.2,273.2 L91.6,273.2 L92.0,273.2 L92.4,273.2 L92.8,273.2 L93.2,273.2 L93.6,273.2 L94.0,273.2 L94.4,273.2 L94.8,273.2 L95.2,273.2 L95.6,273.2 L96.0,273.2 L96.4,273.2 L96.8,273.2 L97.0,273.2 L97.2,273.2 L97.6,273.2 L98.0,273.2 L98.4,273.1 L98.8,273.1 L99.2,273.0 L99.6,272.9 L100.0,272.9 L100.4,272.8 L100.8,272.7 L101.2,272.6 L101.6,272.6 L102.0,272.5 L102.4,272.4 L102.8,272.4 L103.2,272.3 L103.6,272.3 L104.0,272.2 L104.4,272.2 L104.8,272.2 L104.8,272.2 L105.2,272.2 L105.6,272.2 L106.0,272.3 L106.4,272.4 L106.8,272.5 L107.2,272.6 L107.6,272.7 L108.0,272.8 L108.4,272.9 L108.8,273.0 L109.2,273.1 L109.6,273.2 L110.0,273.3 L110.4,273.4 L110.8,273.5 L111.2,273.6 L111.6,273.6 L112.0,273.6 L112.0,273.6 L112.4,273.6 L112.8,273.6 L113.2,273.6 L113.6,273.6 L114.0,273.6 L114.4,273.6 L114.8,273.6 L115.2,273.6 L115.6,273.6 L116.0,273.6 L116.4,273.6 L116.8,273.6 L117.2,273.6 L117.6,273.5 L118.0,273.5 L118.4,273.5 L118.8,273.5 L119.2,273.5 L119.6,273.5 L120.0,273.5 L120.0,273.5 L120.4,273.5 L120.8,273.5 L121.2,273.5 L121.6,273.5 L122.0,273.4 L122.4,273.4 L122.8,273.4 L123.2,273.4 L123.6,273.4 L124.0,273.4 L124.4,273.3 L124.8,273.3 L125.2,273.3 L125.6,273.3 L126.0,273.2 L126.4,273.2 L126.8,273.2 L127.2,273.2 L127.6,273.1 L128.0,273.1 L128.4,273.1 L128.8,273.0 L129.2,273.0 L129.6,273.0 L130.0,272.9 L130.4,272.9 L130.8,272.9 L131.2,272.8 L131.6,272.8 L132.0,272.8 L132.4,272.7 L132.8,272.7 L133.2,272.6 L133.6,272.6 L134.0,272.6 L134.4,272.5 L134.5,272.5 L134.8,272.5 L135.2,272.4 L135.6,272.4 L136.0,272.3 L136.4,272.3 L136.8,272.2 L137.2,272.2 L137.6,272.1 L138.0,272.0 L138.4,272.0 L138.8,271.9 L139.2,271.8 L139.6,271.7 L140.0,271.7 L140.4,271.6 L140.8,271.5 L141.2,271.4 L141.6,271.3 L142.0,271.2 L142.4,271.0 L142.8,270.9 L143.2,270.8 L143.5,270.7 L143.6,270.7 L144.0,270.5 L144.4,270.3 L144.8,270.1 L145.2,269.8 L145.6,269.5 L146.0,269.2 L146.4,268.9 L146.8,268.5 L147.2,268.1 L147.6,267.7 L148.0,267.3 L148.4,266.9 L148.8,266.5 L149.2,266.0 L149.6,265.6 L150.0,265.2 L150.4,264.7 L150.7,264.4 L150.8,264.3 L151.2,263.9 L151.6,263.4 L152.0,262.9 L152.4,262.5 L152.8,262.0 L153.2,261.5 L153.6,260.9 L154.0,260.4 L154.4,259.8 L154.8,259.2 L155.2,258.7 L155.6,258.0 L156.0,257.4 L156.2,257.1 L156.4,256.8 L156.8,256.1 L157.2,255.4 L157.6,254.7 L158.0,253.9 L158.4,253.2 L158.8,252.4 L159.2,251.5 L159.6,250.6 L160.0,249.7 L160.4,248.8 L160.7,248.1 L160.8,247.9 L161.2,246.9 L161.6,245.9 L162.0,244.8 L162.4,243.7 L162.8,242.5 L163.2,241.3 L163.6,239.9 L164.0,238.4 L164.3,237.2 L164.4,236.8 L164.8,234.7 L165.2,232.3 L165.3,231.7 L165.6,229.6 L166.0,226.5 L166.1,225.7 L166.4,223.5 L166.8,220.6 L167.2,217.5 L167.6,213.6 L167.6,213.6 L168.0,207.2 L168.3,203.0 L168.4,202.1 L168.8,199.4 L169.1,198.0 L169.2,197.6 L169.6,196.0 L170.0,194.6 L170.4,193.5 L170.8,193.0 L170.9,193.0 L171.2,193.3 L171.6,194.7 L172.0,196.9 L172.4,199.8 L172.8,203.0 L172.8,203.0 L173.2,208.4 L173.6,215.1 L173.6,215.1 L174.0,221.1 L174.4,227.2 L174.4,227.2 L174.8,233.9 L175.1,238.0 L175.2,239.0 L175.6,242.6 L176.0,245.6 L176.4,248.0 L176.8,249.9 L176.8,249.9 L177.2,251.4 L177.6,252.7 L178.0,253.9 L178.4,254.9 L178.8,255.8 L179.2,256.6 L179.5,257.1 L179.6,257.3 L180.0,257.9 L180.4,258.5 L180.8,259.1 L181.2,259.6 L181.6,260.1 L182.0,260.6 L182.4,261.0 L182.8,261.3 L183.1,261.6 L183.2,261.7 L183.6,262.0 L184.0,262.3 L184.4,262.6 L184.8,262.8 L185.2,263.1 L185.6,263.3 L186.0,263.6 L186.4,263.8 L186.8,264.0 L187.2,264.2 L187.6,264.4 L188.0,264.6 L188.4,264.8 L188.8,265.0 L189.2,265.2 L189.4,265.3 L189.6,265.4 L190.0,265.6 L190.4,265.8 L190.8,266.0 L191.2,266.2 L191.6,266.4 L192.0,266.5 L192.4,266.7 L192.8,266.9 L193.2,267.1 L193.6,267.2 L194.0,267.4 L194.4,267.5 L194.8,267.7 L195.2,267.8 L195.6,268.0 L195.7,268.0 L196.0,268.1 L196.4,268.2 L196.8,268.4 L197.2,268.5 L197.6,268.6 L198.0,268.7 L198.4,268.8 L198.8,269.0 L199.2,269.1 L199.6,269.2 L200.0,269.3 L200.4,269.4 L200.8,269.5 L201.2,269.6 L201.6,269.7 L202.0,269.8 L202.4,269.9 L202.8,270.0 L203.2,270.1 L203.6,270.2 L204.0,270.3 L204.4,270.4 L204.8,270.4 L205.2,270.5 L205.6,270.6 L206.0,270.6 L206.4,270.7 L206.6,270.7 L206.8,270.7 L207.2,270.8 L207.6,270.8 L208.0,270.9 L208.4,270.9 L208.8,270.9 L209.2,271.0 L209.6,271.0 L210.0,271.1 L210.4,271.1 L210.8,271.1 L211.2,271.2 L211.6,271.2 L212.0,271.2 L212.4,271.3 L212.8,271.3 L213.2,271.3 L213.6,271.4 L214.0,271.4 L214.4,271.4 L214.8,271.5 L215.2,271.5 L215.6,271.5 L216.0,271.6 L216.4,271.6 L216.8,271.6 L217.2,271.6 L217.6,271.7 L218.0,271.7 L218.4,271.7 L218.8,271.7 L219.2,271.8 L219.6,271.8 L220.0,271.8 L220.4,271.8 L220.8,271.8 L221.2,271.9 L221.6,271.9 L222.0,271.9 L222.4,271.9 L222.8,271.9 L223.2,271.9 L223.6,272.0 L224.0,272.0 L224.4,272.0 L224.8,272.0 L225.0,272.0 L225.2,272.0 L225.6,272.0 L226.0,272.0 L226.4,272.0 L226.8,272.1 L227.2,272.1 L227.6,272.1 L228.0,272.1 L228.4,272.1 L228.8,272.1 L229.2,272.1 L229.6,272.1 L230.0,272.1 L230.4,272.1 L230.8,272.2 L231.2,272.2 L231.6,272.2 L232.0,272.2 L232.4,272.2 L232.8,272.2 L233.2,272.2 L233.6,272.2 L234.0,272.2 L234.4,272.2 L234.8,272.3 L235.2,272.3 L235.6,272.3 L236.0,272.3 L236.4,272.3 L236.8,272.3 L237.2,272.3 L237.6,272.3 L238.0,272.3 L238.4,272.3 L238.8,272.3 L239.2,272.3 L239.6,272.4 L240.0,272.4 L240.4,272.4 L240.8,272.4 L241.2,272.4 L241.6,272.4 L242.0,272.4 L242.4,272.4 L242.8,272.4 L243.2,272.4 L243.6,272.4 L244.0,272.4 L244.4,272.4 L244.8,272.5 L245.2,272.5 L245.6,272.5 L246.0,272.5 L246.4,272.5 L246.8,272.5 L247.2,272.5 L247.6,272.5 L248.0,272.5 L248.4,272.5 L248.8,272.5 L249.2,272.5 L249.6,272.5 L250.0,272.5 L250.4,272.5 L250.8,272.5 L251.2,272.5 L251.6,272.6 L252.0,272.6 L252.4,272.6 L252.8,272.6 L253.2,272.6 L253.6,272.6 L254.0,272.6 L254.4,272.6 L254.8,272.6 L255.2,272.6 L255.6,272.6 L256.0,272.6 L256.4,272.6 L256.8,272.6 L257.2,272.6 L257.6,272.6 L258.0,272.6 L258.4,272.6 L258.8,272.6 L259.2,272.6 L259.6,272.6 L260.0,272.6 L260.4,272.7 L260.8,272.7 L261.2,272.7 L261.6,272.7 L262.0,272.7 L262.4,272.7 L262.8,272.7 L263.2,272.7 L263.6,272.7 L264.0,272.7 L264.4,272.7 L264.8,272.7 L265.2,272.7 L265.6,272.7 L266.0,272.7 L266.0,272.7 L266.4,272.7 L266.8,272.7 L267.2,272.7 L267.6,272.7 L268.0,272.7 L268.4,272.7 L268.8,272.7 L269.2,272.7 L269.6,272.7 L270.0,272.7 L270.4,272.7 L270.8,272.7 L271.2,272.7 L271.6,272.7 L272.0,272.7 L272.4,272.7 L272.8,272.7 L273.2,272.7 L273.6,272.7 L274.0,272.7 L274.4,272.7 L274.8,272.7 L275.2,272.8 L275.6,272.8 L276.0,272.8 L276.4,272.8 L276.8,272.8 L277.2,272.8 L277.6,272.8 L278.0,272.8 L278.4,272.8 L278.8,272.8 L279.2,272.8 L279.6,272.8 L280.0,272.8 L280.4,272.8 L280.8,272.8 L281.2,272.8 L281.6,272.8 L282.0,272.8 L282.4,272.8 L282.8,272.8 L283.2,272.8 L283.6,272.8 L284.0,272.8 L284.4,272.8 L284.8,272.8 L285.2,272.8 L285.6,272.8 L286.0,272.8 L286.4,272.8 L286.8,272.8 L287.2,272.8 L287.6,272.8 L288.0,272.8 L288.4,272.8 L288.8,272.8 L289.2,272.8 L289.6,272.8 L290.0,272.8 L290.4,272.8 L290.8,272.8 L291.2,272.8 L291.6,272.8 L292.0,272.8 L292.4,272.8 L292.8,272.8 L293.2,272.8 L293.6,272.8 L294.0,272.8 L294.4,272.8 L294.8,272.8 L295.2,272.8 L295.6,272.8 L296.0,272.8 L296.4,272.8 L296.8,272.8 L297.2,272.8 L297.6,272.8 L298.0,272.8 L298.4,272.8 L298.8,272.8 L299.2,272.8 L299.6,272.8 L300.0,272.8 L300.4,272.9 L300.8,272.9 L301.2,272.9 L301.6,272.9 L302.0,272.9 L302.4,272.9 L302.8,272.9 L303.2,272.9 L303.6,272.9 L304.0,272.9 L304.4,272.9 L304.8,272.9 L305.0,272.9 L305.2,272.9 L305.6,272.9 L306.0,272.9 L306.4,272.9 L306.8,273.0 L307.2,273.0 L307.6,273.0 L308.0,273.0 L308.4,273.1 L308.8,273.1 L309.2,273.2 L309.6,273.2 L310.0,273.2 L310.4,273.3 L310.8,273.3 L311.2,273.4 L311.6,273.4 L312.0,273.5 L312.0,273.5 L312.4,273.6 L312.8,273.6 L313.2,273.7 L313.6,273.8 L314.0,273.9 L314.4,274.0 L314.8,274.2 L315.2,274.3 L315.6,274.4 L316.0,274.6 L316.4,274.7 L316.8,274.9 L317.2,275.0 L317.2,275.0" stroke="#ff8000" stroke-width="2" stroke-dasharray="4.6,2.5"/>
<path d="M19.6,277.9 L20.0,277.9 L20.4,277.9 L20.8,277.9 L21.2,277.9 L21.6,277.9 L22.0,277.9 L22.4,277.9 L22.8,277.9 L23.2,277.9 L23.6,277.9 L24.0,277.9 L24.4,277.9 L24.8,277.9 L25.2,277.9 L25.6,277.9 L26.0,277.9 L26.4,277.9 L26.8,277.9 L27.2,277.9 L27.6,277.9 L28.0,277.9 L28.4,277.9 L28.8,277.9 L29.2,277.9 L29.6,277.9 L30.0,277.9 L30.4,277.9 L30.8,277.9 L31.2,278.0 L31.6,278.0 L32.0,278.0 L32.4,278.0 L32.8,278.0 L33.2,278.0 L33.6,278.0 L34.0,278.0 L34.4,278.0 L34.8,278.0 L35.2,278.0 L35.6,278.0 L36.0,278.0 L36.4,278.0 L36.8,278.0 L37.2,278.0 L37.6,278.0 L38.0,278.0 L38.4,278.0 L38.8,278.0 L39.2,278.0 L39.6,278.0 L40.0,278.0 L40.4,278.0 L40.8,278.0 L41.2,278.0 L41.6,278.0 L42.0,278.0 L42.4,278.0 L42.8,278.0 L43.2,278.0 L43.6,278.0 L44.0,278.0 L44.4,278.0 L44.8,278.0 L45.2,278.0 L45.6,278.0 L46.0,278.0 L46.4,278.0 L46.8,278.0 L47.2,278.0 L47.6,278.0 L48.0,278.0 L48.4,278.0 L48.8,278.0 L49.2,278.0 L49.6,278.0 L50.0,278.0 L50.4,278.0 L50.8,278.0 L51.2,278.1 L51.6,278.1 L52.0,278.1 L52.4,278.1 L52.8,278.1 L53.2,278.1 L53.6,278.1 L54.0,278.1 L54.4,278.1 L54.8,278.1 L55.2,278.1 L55.6,278.1 L56.0,278.1 L56.4,278.1 L56.8,278.1 L57.2,278.1 L57.6,278.1 L58.0,278.1 L58.4,278.1 L58.8,278.1 L59.2,278.1 L59.6,278.1 L60.0,278.1 L60.0,278.1 L60.4,278.1 L60.8,278.1 L61.2,278.1 L61.6,278.1 L62.0,278.1 L62.4,278.1 L62.8,278.1 L63.2,278.1 L63.6,278.1 L64.0,278.1 L64.4,278.1 L64.8,278.1 L65.2,278.1 L65.6,278.1 L66.0,278.1 L66.4,278.1 L66.8,278.1 L67.2,278.1 L67.6,278.2 L68.0,278.2 L68.4,278.2 L68.8,278.2 L69.2,278.2 L69.6,278.2 L70.0,278.2 L70.4,278.2 L70.8,278.2 L71.2,278.2 L71.6,278.2 L72.0,278.2 L72.4,278.2 L72.8,278.2 L73.2,278.2 L73.6,278.2 L74.0,278.2 L74.4,278.2 L74.8,278.2 L75.2,278.2 L75.6,278.2 L76.0,278.2 L76.4,278.2 L76.8,278.2 L77.2,278.2 L77.6,278.2 L78.0,278.2 L78.4,278.2 L78.8,278.2 L79.2,278.2 L79.6,278.3 L80.0,278.3 L80.4,278.3 L80.8,278.3 L81.2,278.3 L81.6,278.3 L82.0,278.3 L82.4,278.3 L82.8,278.3 L83.2,278.3 L83.6,278.3 L84.0,278.3 L84.4,278.3 L84.8,278.3 L85.2,278.3 L85.6,278.3 L86.0,278.3 L86.4,278.3 L86.8,278.3 L87.2,278.3 L87.6,278.3 L88.0,278.3 L88.4,278.3 L88.8,278.3 L89.2,278.3 L89.6,278.3 L90.0,278.3 L90.4,278.3 L90.8,278.3 L91.2,278.4 L91.6,278.4 L92.0,278.4 L92.4,278.4 L92.8,278.4 L93.2,278.4 L93.6,278.4 L94.0,278.4 L94.4,278.4 L94.8,278.4 L95.2,278.4 L95.6,278.4 L96.0,278.4 L96.4,278.4 L96.8,278.4 L97.2,278.4 L97.6,278.4 L98.0,278.4 L98.4,278.4 L98.8,278.4 L99.2,278.4 L99.6,278.4 L100.0,278.4 L100.4,278.4 L100.8,278.4 L101.2,278.4 L101.6,278.4 L102.0,278.4 L102.4,278.4 L102.8,278.4 L103.2,278.4 L103.6,278.4 L104.0,278.4 L104.4,278.4 L104.8,278.5 L105.2,278.5 L105.6,278.5 L106.0,278.5 L106.4,278.5 L106.8,278.5 L107.2,278.5 L107.6,278.5 L108.0,278.5 L108.4,278.5 L108.8,278.5 L109.2,278.5 L109.6,278.5 L110.0,278.5 L110.4,278.5 L110.8,278.5 L111.2,278.5 L111.6,278.5 L112.0,278.5 L112.4,278.5 L112.8,278.5 L113.2,278.5 L113.6,278.5 L114.0,278.5 L114.4,278.5 L114.8,278.5 L115.2,278.5 L115.6,278.5 L116.0,278.5 L116.4,278.5 L116.8,278.5 L117.2,278.5 L117.6,278.5 L118.0,278.5 L118.4,278.5 L118.8,278.5 L119.2,278.5 L119.6,278.5 L120.0,278.5 L120.0,278.5 L120.4,278.5 L120.8,278.5 L121.2,278.5 L121.6,278.5 L122.0,278.5 L122.4,278.5 L122.8,278.5 L123.2,278.5 L123.6,278.5 L124.0,278.5 L124.4,278.5 L124.8,278.4 L125.2,278.4 L125.6,278.4 L126.0,278.4 L126.4,278.4 L126.8,278.4 L127.2,278.4 L127.6,278.4 L128.0,278.4 L128.4,278.3 L128.8,278.3 L129.2,278.3 L129.6,278.3 L130.0,278.3 L130.4,278.3 L130.8,278.2 L131.2,278.2 L131.6,278.2 L132.0,278.2 L132.4,278.2 L132.8,278.1 L133.2,278.1 L133.6,278.1 L134.0,278.1 L134.4,278.1 L134.8,278.0 L135.2,278.0 L135.6,278.0 L136.0,278.0 L136.4,277.9 L136.8,277.9 L137.2,277.9 L137.6,277.9 L138.0,277.8 L138.4,277.8 L138.8,277.8 L139.2,277.7 L139.6,277.7 L140.0,277.7 L140.4,277.6 L140.8,277.6 L141.2,277.6 L141.6,277.6 L142.0,277.5 L142.4,277.5 L142.8,277.5 L143.2,277.4 L143.5,277.4 L143.6,277.4 L144.0,277.4 L144.4,277.3 L144.8,277.3 L145.2,277.2 L145.6,277.1 L146.0,277.1 L146.4,277.0 L146.8,276.9 L147.2,276.9 L147.6,276.8 L148.0,276.7 L148.4,276.6 L148.8,276.5 L149.2,276.4 L149.6,276.3 L150.0,276.2 L150.4,276.1 L150.8,276.0 L151.2,275.9 L151.6,275.8 L152.0,275.7 L152.4,275.5 L152.8,275.4 L153.2,275.3 L153.6,275.2 L154.0,275.0 L154.4,274.9 L154.8,274.8 L155.2,274.6 L155.6,274.5 L156.0,274.4 L156.2,274.3 L156.4,274.2 L156.8,274.1 L157.2,274.0 L157.6,273.8 L158.0,273.7 L158.4,273.5 L158.8,273.4 L159.2,273.2 L159.6,273.0 L160.0,272.8 L160.4,272.6 L160.8,272.4 L161.2,272.2 L161.6,272.0 L162.0,271.7 L162.4,271.5 L162.8,271.2 L163.2,270.9 L163.4,270.7 L163.6,270.5 L164.0,270.1 L164.4,269.5 L164.8,268.8 L165.2,268.1 L165.6,267.3 L166.0,266.5 L166.4,265.6 L166.8,264.7 L167.2,263.9 L167.6,263.1 L167.9,262.5 L168.0,262.3 L168.4,261.4 L168.8,260.4 L169.2,259.4 L169.6,258.4 L170.0,257.6 L170.4,256.9 L170.8,256.5 L171.0,256.5 L171.2,256.5 L171.6,256.9 L172.0,257.5 L172.4,258.3 L172.8,259.3 L173.2,260.4 L173.6,261.6 L174.0,262.9 L174.2,263.5 L174.4,264.2 L174.8,266.3 L175.2,268.5 L175.6,270.2 L175.8,270.7 L176.0,271.0 L176.4,271.6 L176.8,272.0 L177.2,272.5 L177.6,272.8 L178.0,273.1 L178.4,273.4 L178.8,273.6 L179.2,273.8 L179.5,273.9 L179.6,273.9 L180.0,274.1 L180.4,274.2 L180.8,274.4 L181.2,274.5 L181.6,274.6 L182.0,274.7 L182.4,274.8 L182.8,274.9 L183.2,274.9 L183.6,275.0 L184.0,275.1 L184.4,275.2 L184.8,275.2 L185.2,275.3 L185.6,275.4 L186.0,275.5 L186.4,275.5 L186.7,275.6 L186.8,275.6 L187.2,275.7 L187.6,275.8 L188.0,275.9 L188.4,275.9 L188.8,276.0 L189.2,276.1 L189.6,276.2 L190.0,276.2 L190.4,276.3 L190.8,276.4 L191.2,276.5 L191.6,276.5 L192.0,276.6 L192.4,276.7 L192.8,276.8 L193.2,276.8 L193.6,276.9 L194.0,276.9 L194.4,277.0 L194.8,277.1 L195.2,277.1 L195.6,277.2 L196.0,277.2 L196.4,277.3 L196.8,277.3 L197.2,277.4 L197.5,277.4 L197.6,277.4 L198.0,277.5 L198.4,277.5 L198.8,277.5 L199.2,277.6 L199.6,277.6 L200.0,277.6 L200.4,277.7 L200.8,277.7 L201.2,277.8 L201.6,277.8 L202.0,277.8 L202.4,277.9 L202.8,277.9 L203.2,277.9 L203.6,278.0 L204.0,278.0 L204.4,278.0 L204.8,278.0 L205.2,278.1 L205.6,278.1 L206.0,278.1 L206.4,278.1 L206.8,278.2 L207.2,278.2 L207.6,278.2 L208.0,278.2 L208.4,278.2 L208.8,278.3 L209.2,278.3 L209.6,278.3 L210.0,278.3 L210.2,278.3 L210.4,278.3 L210.8,278.3 L211.2,278.3 L211.6,278.3 L212.0,278.3 L212.4,278.3 L212.8,278.4 L213.2,278.4 L213.6,278.4 L214.0,278.4 L214.4,278.4 L214.8,278.4 L215.2,278.4 L215.6,278.4 L216.0,278.4 L216.4,278.4 L216.8,278.4 L217.2,278.4 L217.6,278.4 L218.0,278.4 L218.4,278.4 L218.8,278.5 L219.2,278.5 L219.6,278.5 L220.0,278.5 L220.4,278.5 L220.8,278.5 L221.2,278.5 L221.6,278.5 L222.0,278.5 L222.4,278.5 L222.8,278.5 L223.2,278.5 L223.6,278.5 L224.0,278.5 L224.4,278.5 L224.8,278.5 L225.0,278.5 L225.2,278.5 L225.6,278.5 L226.0,278.5 L226.4,278.5 L226.8,278.5 L227.2,278.5 L227.6,278.5 L228.0,278.5 L228.4,278.5 L228.8,278.5 L229.2,278.5 L229.6,278.5 L230.0,278.5 L230.4,278.5 L230.8,278.5 L231.2,278.5 L231.6,278.5 L232.0,278.5 L232.4,278.5 L232.8,278.5 L233.2,278.5 L233.6,278.5 L234.0,278.5 L234.4,278.5 L234.8,278.5 L235.2,278.5 L235.6,278.5 L236.0,278.5 L236.4,278.5 L236.8,278.5 L237.2,278.5 L237.6,278.5 L238.0,278.5 L238.4,278.5 L238.8,278.5 L239.2,278.5 L239.6,278.5 L240.0,278.5 L240.4,278.5 L240.8,278.5 L241.2,278.5 L241.6,278.5 L242.0,278.5 L242.4,278.5 L242.8,278.5 L243.2,278.5 L243.6,278.5 L244.0,278.5 L244.4,278.5 L244.8,278.5 L245.2,278.5 L245.6,278.5 L246.0,278.5 L246.4,278.5 L246.8,278.5 L247.2,278.5 L247.6,278.5 L248.0,278.5 L248.4,278.5 L248.8,278.5 L249.2,278.5 L249.6,278.5 L250.0,278.5 L250.4,278.5 L250.8,278.5 L251.2,278.5 L251.6,278.5 L252.0,278.5 L252.4,278.5 L252.8,278.5 L253.2,278.5 L253.6,278.5 L254.0,278.5 L254.4,278.5 L254.8,278.5 L255.2,278.5 L255.6,278.5 L256.0,278.5 L256.4,278.5 L256.8,278.5 L257.2,278.5 L257.6,278.5 L258.0,278.5 L258.4,278.5 L258.8,278.5 L259.2,278.5 L259.6,278.5 L260.0,278.5 L260.4,278.5 L260.8,278.5 L261.2,278.5 L261.6,278.5 L262.0,278.5 L262.4,278.5 L262.8,278.5 L263.2,278.5 L263.6,278.5 L264.0,278.5 L264.4,278.5 L264.8,278.5 L265.2,278.5 L265.6,278.5 L266.0,278.5 L266.4,278.5 L266.8,278.5 L267.2,278.5 L267.6,278.6 L268.0,278.6 L268.4,278.6 L268.8,278.6 L269.2,278.6 L269.6,278.6 L270.0,278.6 L270.4,278.6 L270.8,278.6 L271.2,278.6 L271.6,278.6 L272.0,278.6 L272.4,278.6 L272.8,278.6 L273.2,278.6 L273.6,278.6 L274.0,278.6 L274.4,278.6 L274.8,278.6 L275.2,278.6 L275.6,278.6 L276.0,278.6 L276.4,278.6 L276.8,278.6 L277.2,278.6 L277.6,278.6 L278.0,278.6 L278.4,278.6 L278.8,278.6 L279.2,278.6 L279.6,278.6 L280.0,278.6 L280.4,278.6 L280.8,278.6 L281.2,278.6 L281.6,278.6 L282.0,278.6 L282.4,278.6 L282.8,278.6 L283.2,278.6 L283.6,278.6 L284.0,278.6 L284.4,278.6 L284.8,278.6 L285.2,278.6 L285.6,278.6 L286.0,278.6 L286.4,278.6 L286.8,278.6 L287.2,278.6 L287.6,278.6 L288.0,278.6 L288.4,278.6 L288.8,278.6 L289.2,278.6 L289.6,278.6 L290.0,278.6 L290.4,278.6 L290.8,278.6 L291.2,278.6 L291.6,278.6 L292.0,278.6 L292.4,278.6 L292.8,278.6 L293.2,278.6 L293.6,278.6 L294.0,278.6 L294.4,278.6 L294.8,278.6 L295.2,278.6 L295.6,278.6 L296.0,278.6 L296.4,278.6 L296.8,278.6 L297.2,278.6 L297.6,278.6 L298.0,278.6 L298.4,278.6 L298.8,278.6 L299.2,278.6 L299.6,278.6 L300.0,278.6 L300.0,278.6 L300.4,278.6 L300.8,278.6 L301.2,278.6 L301.6,278.6 L302.0,278.6 L302.4,278.6 L302.8,278.6 L303.2,278.6 L303.6,278.6 L304.0,278.6 L304.4,278.6 L304.8,278.7 L305.2,278.7 L305.6,278.7 L306.0,278.7 L306.4,278.7 L306.8,278.7 L307.2,278.7 L307.6,278.7 L308.0,278.7 L308.4,278.7 L308.8,278.8 L309.2,278.8 L309.6,278.8 L310.0,278.8 L310.0,278.8 L310.4,278.8 L310.8,278.9 L311.2,278.9 L311.6,279.0 L312.0,279.0 L312.4,279.1 L312.8,279.2 L313.2,279.3 L313.6,279.4 L314.0,279.5 L314.4,279.6 L314.8,279.7 L315.2,279.9 L315.6,280.0 L316.0,280.1 L316.4,280.2 L316.8,280.4 L317.2,280.5 L317.2,280.5" stroke="#000" stroke-width="2" stroke-dasharray="8,4,2,4.5,2,3.5"/>
</g>
<!-- arrows -->
<g stroke="#000" stroke-width="2" fill="none">
<line x1="170.9" y1="45.4" x2="170.9" y2="274.5" stroke-dasharray="8,4.6"/>
<line x1="154.6" y1="197.8" x2="154.6" y2="286" stroke-dasharray="11.5,4.7"/>
</g>
<polygon points="170.9,39 167.4,50.2 174.4,50.2" fill="#000"/>
<polygon points="154.6,179 151.6,189 157.6,189" fill="#000"/>
<!-- axes -->
<g stroke="#000" fill="none">
<line x1="19.6" y1="23.1" x2="19.6" y2="291.8" stroke-width="1.2"/>
<line x1="317.5" y1="23.1" x2="317.5" y2="291.8" stroke-width="1.2"/>
<line x1="19" y1="23.6" x2="318.1" y2="23.6" stroke-width="1"/>
<line x1="19" y1="286.3" x2="318.1" y2="286.3" stroke-width="1"/>
<line x1="44.4" y1="286.3" x2="44.4" y2="289.4" stroke-width="1.1"/>
<line x1="69.2" y1="286.3" x2="69.2" y2="291.8" stroke-width="1.1"/>
<line x1="94.1" y1="286.3" x2="94.1" y2="289.4" stroke-width="1.1"/>
<line x1="118.9" y1="286.3" x2="118.9" y2="291.8" stroke-width="1.1"/>
<line x1="143.7" y1="286.3" x2="143.7" y2="289.4" stroke-width="1.1"/>
<line x1="168.5" y1="286.3" x2="168.5" y2="291.8" stroke-width="1.1"/>
<line x1="193.4" y1="286.3" x2="193.4" y2="289.4" stroke-width="1.1"/>
<line x1="218.2" y1="286.3" x2="218.2" y2="291.8" stroke-width="1.1"/>
<line x1="243.0" y1="286.3" x2="243.0" y2="289.4" stroke-width="1.1"/>
<line x1="267.9" y1="286.3" x2="267.9" y2="291.8" stroke-width="1.1"/>
<line x1="292.7" y1="286.3" x2="292.7" y2="289.4" stroke-width="1.1"/>
</g>
<text x="19.6" y="304.8" font-size="13.7" text-anchor="middle">2200</text>
<text x="69.2" y="304.8" font-size="13.7" text-anchor="middle">2250</text>
<text x="118.9" y="304.8" font-size="13.7" text-anchor="middle">2300</text>
<text x="168.5" y="304.8" font-size="13.7" text-anchor="middle">2350</text>
<text x="218.2" y="304.8" font-size="13.7" text-anchor="middle">2400</text>
<text x="267.9" y="304.8" font-size="13.7" text-anchor="middle">2450</text>
<text x="317.5" y="304.8" font-size="13.7" text-anchor="middle">2500</text>

<text x="28.3" y="41.6" font-size="16.8">Mg-MOF74</text>
<text x="151.5" y="36.1" font-size="17">2352</text>
<text x="155.1" y="12.9" font-size="13.8" class="r">ν</text><text x="162.7" y="17.1" font-size="10.5">3</text><text x="168.1" y="13.6" font-size="17.2">(CO</text><text x="199.6" y="16.9" font-size="10.5">2</text><text x="204.8" y="13.6" font-size="17.5">)</text>
<text x="114.8" y="199.5" font-size="16.5">2341</text>
<g font-size="15" class="r"><text x="91.9" y="171.8" class="r">δ</text><text x="114.2" y="171.8" class="r">δ</text><text x="136.3" y="171.8" class="r">ν</text></g>
<g font-size="10.5"><text x="99.7" y="177">2</text><text x="121.2" y="177">1</text><text x="143.8" y="177">3</text></g>
<g stroke="#000" stroke-width="1.15"><line x1="105.4" y1="167.1" x2="114.4" y2="167.1"/><line x1="127" y1="167.3" x2="134.9" y2="167.3"/><line x1="130.95" y1="163.3" x2="130.95" y2="171.5"/></g>
<!-- scale bar -->
<g stroke="#000" stroke-width="2.2">
<line x1="32.4" y1="72.5" x2="32.4" y2="116"/>
<line x1="28.1" y1="72.7" x2="36.7" y2="72.7"/>
<line x1="28.1" y1="115.6" x2="36.7" y2="115.6"/>
</g>
<text x="37.3" y="98.9" font-size="17">0.05</text>
<!-- legend -->
<g stroke-width="2" fill="none">
<line x1="228.3" y1="43" x2="261.2" y2="43" stroke="#0000ff"/>
<line x1="228.3" y1="64.1" x2="261.2" y2="64.1" stroke="#800000" stroke-dasharray="8.2,7.6"/>
<line x1="228.3" y1="85.1" x2="261.2" y2="85.1" stroke="#008000" stroke-dasharray="2,5.6"/>
<line x1="228.3" y1="105.9" x2="261.2" y2="105.9" stroke="#ff8000" stroke-dasharray="4.6,2.5"/>
<line x1="228.3" y1="126.9" x2="261.2" y2="126.9" stroke="#000" stroke-dasharray="8,4,2,4.5,2,3.5"/>
</g>
<text x="264.8" y="48.2" font-size="17">6 Torr</text>
<text x="264.8" y="69.2" font-size="17">5 Torr</text>
<text x="264.8" y="90.2" font-size="17">4 Torr</text>
<text x="264.8" y="111.1" font-size="17">3 Torr</text>
<text x="264.8" y="132.1" font-size="17">1 Torr</text>
<!-- axis labels -->
<text x="169.4" y="332.3" font-size="17" text-anchor="middle">Wavenumber (cm<tspan font-size="10.5" dy="-7.8">-1</tspan><tspan dy="7.8">)</tspan></text>
<text transform="translate(12.3,151) rotate(-90)" font-size="17.5" text-anchor="middle">Absorbance (a.u.)</text>
</svg>
</body></html>
